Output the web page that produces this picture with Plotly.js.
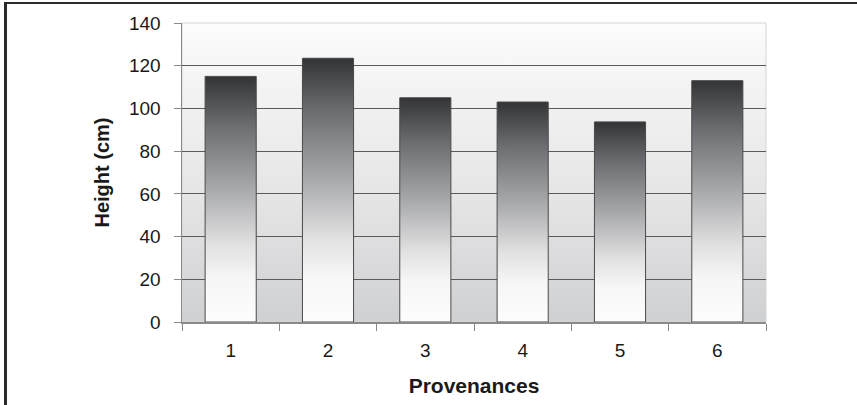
<!DOCTYPE html>
<html>
<head>
<meta charset="utf-8">
<script src="https://cdn.plot.ly/plotly-3.0.1.min.js"></script>
<style>
html,body{margin:0;padding:0;background:#fff;}
#wrap{position:relative;width:857px;height:405px;overflow:hidden;}
#chart{position:absolute;left:0;top:0;width:857px;height:405px;}
#topline{position:absolute;left:4px;top:2px;width:853px;height:2px;background:#2a2a2a;}
#leftline{position:absolute;left:4px;top:2px;width:3px;height:403px;background:#2a2a2a;}
</style>
</head>
<body>
<div id="wrap">
<div id="chart"></div>
<div id="topline"></div>
<div id="leftline"></div>
</div>
<script>
const categories = ['1', '2', '3', '4', '5', '6'];
const heights = [115, 123.5, 105, 103, 93.7, 113];
const yTicks = [0, 20, 40, 60, 80, 100, 120, 140];

const trace = {
  type: 'bar',
  x: categories,
  y: heights,
  marker: {color: '#9a9b9d', line: {color: '#4a4a4a', width: 1}},
  hoverinfo: 'none'
};

const layout = {
  width: 857, height: 405,
  margin: {l: 182, r: 91, t: 23, b: 83},
  paper_bgcolor: 'rgba(0,0,0,0)',
  plot_bgcolor: '#e6e6e7',
  bargap: 0.475,
  showlegend: false,
  font: {family: 'Liberation Sans, Arial, sans-serif', color: '#1a1a1a'},
  xaxis: {
    type: 'category',
    tickson: 'boundaries',
    ticks: 'outside', ticklen: 7, tickcolor: '#888', tickwidth: 1,
    ticklabelstandoff: 11,
    showline: true, linecolor: '#8a8a8a', linewidth: 1.5,
    showgrid: false, zeroline: false,
    tickfont: {size: 19, color: '#1a1a1a'},
    title: {text: '<b>Provenances</b>', font: {size: 21, color: '#1a1a1a'}, standoff: 18}
  },
  yaxis: {
    range: [0, 140],
    tickvals: yTicks,
    ticktext: yTicks.map(String),
    ticks: 'outside', ticklen: 7, tickcolor: '#888', tickwidth: 1,
    ticklabelstandoff: 9,
    showline: true, linecolor: '#8a8a8a', linewidth: 1.5,
    showgrid: true, gridcolor: '#5a5a5a', gridwidth: 1,
    zeroline: false,
    tickfont: {size: 19, color: '#1a1a1a'},
    title: {text: '<b>Height (cm)</b>', font: {size: 20, color: '#1a1a1a'}, standoff: 14}
  },
  shapes: [{
    type: 'rect', xref: 'paper', yref: 'paper', x0: 0, x1: 1, y0: 0, y1: 1,
    line: {color: '#d4d4d4', width: 1}, layer: 'below'
  }]
};

function addGradient(svg, id, stops) {
  const ns = 'http://www.w3.org/2000/svg';
  let defs = svg.querySelector('defs');
  if (!defs) { defs = document.createElementNS(ns, 'defs'); svg.insertBefore(defs, svg.firstChild); }
  const g = document.createElementNS(ns, 'linearGradient');
  g.setAttribute('id', id);
  g.setAttribute('x1', '0'); g.setAttribute('y1', '0');
  g.setAttribute('x2', '0'); g.setAttribute('y2', '1');
  stops.forEach(function (s) {
    const st = document.createElementNS(ns, 'stop');
    st.setAttribute('offset', s[0]);
    st.setAttribute('stop-color', s[1]);
    g.appendChild(st);
  });
  defs.appendChild(g);
}

Plotly.newPlot('chart', [trace], layout, {staticPlot: true, displayModeBar: false}).then(function (gd) {
  const svg = gd.querySelector('.main-svg');
  addGradient(svg, 'barGrad', [['0', '#333436'], ['0.2', '#6c6d70'], ['0.45', '#a6a7a9'], ['0.68', '#e0e0e1'], ['0.82', '#f6f6f6'], ['1', '#fdfdfd']]);
  addGradient(svg, 'bgGrad', [['0', '#fcfcfc'], ['0.2', '#f4f4f4'], ['0.6', '#e4e4e5'], ['1', '#cfd0d2']]);
  gd.querySelectorAll('.bars path').forEach(function (p) { p.style.fill = 'url(#barGrad)'; });
  gd.querySelectorAll('.bglayer rect.bg').forEach(function (r) { r.style.fill = 'url(#bgGrad)'; });
});
</script>
</body>
</html>
